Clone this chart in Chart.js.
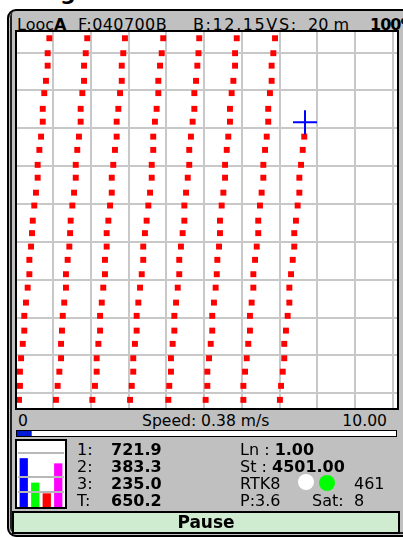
<!DOCTYPE html>
<html>
<head>
<meta charset="utf-8">
<script src="https://cdn.jsdelivr.net/npm/chart.js@4.4.1/dist/chart.umd.min.js"></script>
<style>
  body { margin: 0; width: 403px; height: 538px; overflow: hidden; background: #fff; position: relative; font-family: "DejaVu Sans", sans-serif; color: #000; }
  .abs { position: absolute; white-space: nowrap; }
  canvas { display: block; }
  #titleG { left: 60px; top: -18px; font-size: 22px; line-height: 22px; font-weight: bold; }
  #frame { left: 7px; top: 9px; width: 420px; height: 528px; box-sizing: border-box; border: 2px solid #000; border-radius: 9px; background: #c0c0c0;
           box-shadow: inset 1px -1px 0 #c0c0c0, inset 3px -3px 0 #222; }
  .t16 { font-size: 16px; line-height: 16px; }
  .t15 { font-size: 15.6px; line-height: 15px; }
  #plotBox { left: 15px; top: 30px; width: 384px; height: 380px; box-sizing: border-box; border: 2px solid #000; background: #fff; }
  #speedBox { left: 16px; top: 430px; width: 381px; height: 7px; box-sizing: border-box; border: 1px solid #000; background: #fff; }
  #countBox { left: 15px; top: 439px; width: 52px; height: 70px; box-sizing: border-box; border: 2px solid #000; background: #fff; }
  #countBox canvas { margin-left: 1px; }
  .dot { width: 16px; height: 16px; border-radius: 50%; }
  #pause { left: 12px; top: 511px; width: 388px; height: 23px; box-sizing: border-box; border: 2px solid #000; background: #d0ecd0;
           font-size: 17px; line-height: 19px; font-weight: bold; text-align: center; }
</style>
</head>
<body>
<div class="abs" id="titleG">g</div>
<div class="abs" id="frame"></div>

<div class="abs t16" style="left:17px; top:16.5px">Looc<b>A</b></div>
<div class="abs t16" style="left:78px; top:16.5px; letter-spacing:0.4px">F:040700B</div>
<div class="abs t16" style="left:193px; top:16.5px; letter-spacing:1.6px">B:12.15VS:</div>
<div class="abs t16" style="left:308px; top:16.5px">20 m</div>
<div class="abs t16" style="left:370px; top:16.5px; letter-spacing:-1px"><b>100%</b></div>

<div class="abs" id="plotBox"><canvas id="trackChart" width="380" height="376"></canvas></div>

<div class="abs t15" style="left:18px; top:414px">0</div>
<div class="abs t15" id="speedText" style="left:142px; top:414px"></div>
<div class="abs t15" id="speedMaxText" style="right:16px; top:414px"></div>
<div class="abs" id="speedBox"><canvas id="speedChart" width="379" height="5"></canvas></div>

<div class="abs" id="countBox"><canvas id="countChart" width="46" height="66"></canvas></div>
<div class="abs t16" id="countRows"></div>

<div class="abs t16" style="left:240px; top:441.5px">Ln : <b>1.00</b></div>
<div class="abs t16" style="left:240px; top:458.5px">St : <b>4501.00</b></div>
<div class="abs t16" style="left:240px; top:475.5px">RTK8</div>
<div class="abs dot" style="left:298px; top:474px; background:#fff"></div>
<div class="abs dot" style="left:319px; top:475px; background:#00ff00"></div>
<div class="abs t16" style="left:354px; top:475.5px">461</div>
<div class="abs t16" style="left:240px; top:492.5px">P:3.6</div>
<div class="abs t16" style="left:312px; top:492.5px">Sat:</div>
<div class="abs t16" style="left:354px; top:492.5px">8</div>

<div class="abs" id="pause">Pause</div>

<script>
// north of each logged row (m), shared by all passes, bottom to top
const rowNorth = [-3.5, 3.9, 11.4, 18.5, 26.1, 33.1, 40.9, 47.9, 55.8, 62.9, 70.5, 77.5, 84.6, 91.2,
  99.2, 106.0, 113.9, 120.7, 128.6, 135.6, 143.5, 150.3, 158.6, 165.1, 173.1, 179.7, 187.6];

// east (m) of each pass
const track1East = [1.8, 2.3, 2.3, 2.9, 3.8, 4.6, 4.6, 5.5, 6.4, 7.3, 7.3, 8.2, 8.7, 9.1,
  9.9, 10.8, 11.7, 11.7, 12.6, 13.5, 14.4, 14.4, 15.2, 16.1, 17.0, 17.0, 17.9];
const track2East = [21.4, 22.3, 23.2, 24.1, 24.1, 24.6, 25.0, 25.8, 26.7, 26.7, 27.6, 28.5, 28.9, 29.2,
  30.1, 31.0, 31.9, 31.9, 32.7, 33.6, 34.5, 34.5, 35.4, 36.3, 36.3, 37.2, 38.0];
const track3East = [40.7, 42.1, 43.0, 43.0, 43.9, 44.8, 44.8, 45.7, 46.5, 47.4, 47.4, 48.3, 48.3, 49.2,
  50.1, 51.0, 51.0, 51.8, 52.7, 53.6, 53.6, 54.5, 55.4, 56.3, 56.3, 57.1, 58.0];
const track4East = [60.7, 61.6, 62.4, 62.4, 63.3, 64.2, 64.2, 65.1, 66.0, 66.9, 67.7, 67.7, 68.6, 69.5,
  70.4, 71.3, 72.2, 72.2, 73.0, 73.0, 73.9, 74.8, 75.7, 75.7, 76.6, 77.5, 78.3];
const track5East = [81.0, 81.5, 82.4, 82.4, 83.3, 84.2, 84.2, 85.1, 86.0, 86.8, 86.8, 87.7, 88.6, 89.5,
  89.5, 90.4, 91.3, 92.1, 92.1, 93.0, 93.9, 94.8, 94.8, 95.7, 96.4, 97.0, 97.4];
const track6East = [100.8, 101.7, 101.7, 102.6, 103.5, 104.3, 104.3, 105.2, 106.1, 106.7, 107.0, 107.9, 108.4, 108.4,
  109.3, 110.2, 111.1, 111.1, 112.0, 112.8, 113.7, 113.7, 114.6, 115.5, 116.4, 116.4, 117.3];
const track7East = [120.8, 120.8, 121.7, 122.6, 123.4, 124.3, 124.3, 125.2, 126.1, 126.1, 127.0, 127.9, 128.7, 128.7,
  129.6, 130.5, 131.4, 131.4, 132.3, 133.2, 134.0, 134.0, 134.9, 135.8, 135.8, 136.7, 137.6];
const track8East = [140.2, 140.8, 141.7, 142.5, 142.5, 143.4, 144.3, 145.2, 145.2, 146.1, 147.0, 147.8, 147.8, 148.7,
  149.6, 150.5, 150.5, 151.4, 152.3, 153.1];

const cursorEast = [153.5];
const cursorNorth = [143.2];

const eastGridTicks = [20, 40, 60, 80, 100, 120, 140, 160, 180, 200];
const northGridTicks = [0, 20, 40, 60, 80, 100, 120, 140, 160, 180];

const countLabels = ["1:", "2:", "3:", "T:"];
const countValues = [721.9, 383.3, 235.0, 650.2];
const countColors = ["#0000ff", "#00ff00", "#ff0000", "#ff00ff"];
const countGridTicks = [257, 465, 798];

const speedValue = [0.38];
const speedMax = 10;

const tracks = [track1East, track2East, track3East, track4East, track5East, track6East, track7East, track8East];

function toPoints(eastValues) {
  return eastValues.map((x, i) => ({ x, y: rowNorth[i] }));
}

function fixedTicks(values) {
  return (axis) => {
    axis.ticks = values.map((v) => ({ value: v }));
  };
}

new Chart(document.getElementById("trackChart"), {
  type: "scatter",
  data: {
    datasets: [
      {
        data: cursorEast.map((x, i) => ({ x, y: cursorNorth[i] })),
        pointStyle: "cross",
        pointRadius: 12,
        pointBorderColor: "#0000ff",
        pointBorderWidth: 2,
      },
      ...tracks.map((t) => ({
        data: toPoints(t),
        pointStyle: "rect",
        pointRadius: 4.2,
        pointBackgroundColor: "#ff0000",
        pointBorderWidth: 0,
      })),
    ],
  },
  options: {
    responsive: false,
    animation: false,
    events: [],
    layout: { padding: 0, autoPadding: false },
    plugins: {
      legend: { display: false },
      tooltip: { enabled: false },
    },
    scales: {
      x: {
        type: "linear",
        min: 0.74,
        max: 202.3,
        afterBuildTicks: fixedTicks(eastGridTicks),
        ticks: { display: false },
        grid: { color: "#c8c8c8", lineWidth: 2, drawTicks: false },
        border: { display: false },
      },
      y: {
        type: "linear",
        min: -7.8,
        max: 190.9,
        afterBuildTicks: fixedTicks(northGridTicks),
        ticks: { display: false },
        grid: { color: "#c8c8c8", lineWidth: 2, drawTicks: false },
        border: { display: false },
      },
    },
  },
});

new Chart(document.getElementById("countChart"), {
  type: "bar",
  data: {
    labels: countLabels,
    datasets: [
      {
        data: countValues,
        backgroundColor: countColors,
        barPercentage: 0.72,
        categoryPercentage: 1,
        borderWidth: 0,
      },
    ],
  },
  options: {
    responsive: false,
    animation: false,
    events: [],
    layout: { padding: 0, autoPadding: false },
    plugins: {
      legend: { display: false },
      tooltip: { enabled: false },
    },
    scales: {
      x: { display: false },
      y: {
        min: 45,
        max: 960,
        afterBuildTicks: fixedTicks(countGridTicks),
        ticks: { display: false },
        grid: { color: "#b8b8b8", lineWidth: 2, drawTicks: false, z: 1 },
        border: { display: false },
      },
    },
  },
});

new Chart(document.getElementById("speedChart"), {
  type: "bar",
  data: {
    labels: ["speed"],
    datasets: [
      {
        data: speedValue,
        backgroundColor: "#0018d8",
        barPercentage: 1,
        categoryPercentage: 1,
        borderWidth: 0,
      },
    ],
  },
  options: {
    indexAxis: "y",
    responsive: false,
    animation: false,
    events: [],
    layout: { padding: 0, autoPadding: false },
    plugins: {
      legend: { display: false },
      tooltip: { enabled: false },
    },
    scales: {
      x: { display: false, min: 0, max: speedMax },
      y: { display: false },
    },
  },
});

document.getElementById("speedText").textContent = `Speed: ${speedValue[0].toFixed(2)} m/s`;
document.getElementById("speedMaxText").textContent = speedMax.toFixed(2);

const rowTops = [441.5, 458.5, 475.5, 492.5];
document.getElementById("countRows").innerHTML = countLabels
  .map((label, i) =>
    `<div class="abs t16" style="left:77px; top:${rowTops[i]}px">${label}</div>` +
    `<div class="abs t16" style="left:111px; top:${rowTops[i]}px"><b>${countValues[i].toFixed(1)}</b></div>`)
  .join("");
</script>
</body>
</html>
